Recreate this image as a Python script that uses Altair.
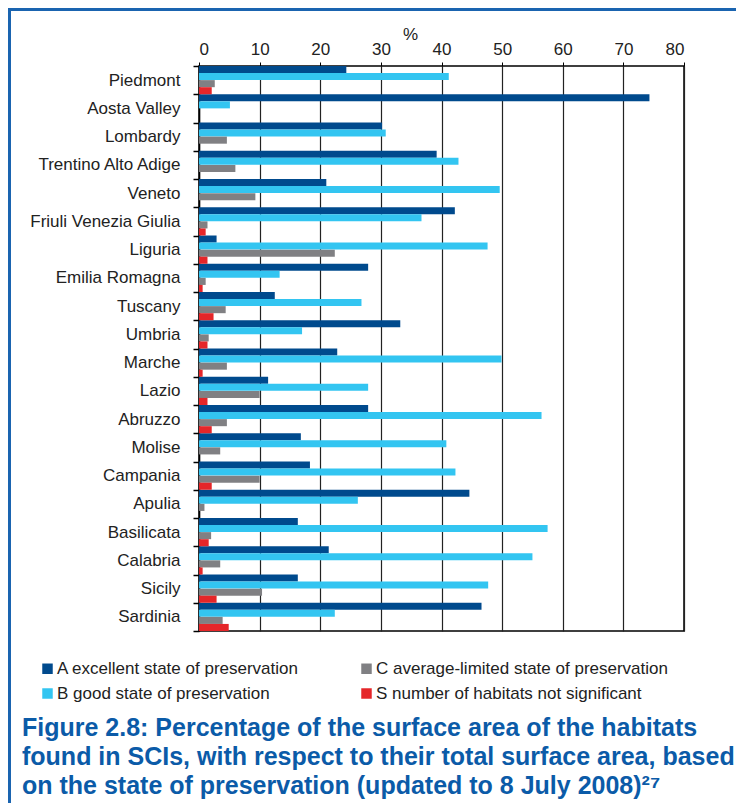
import altair as alt
import pandas as pd

regions = ["Piedmont", "Aosta Valley", "Lombardy", "Trentino Alto Adige", "Veneto",
           "Friuli Venezia Giulia", "Liguria", "Emilia Romagna", "Tuscany", "Umbria",
           "Marche", "Lazio", "Abruzzo", "Molise", "Campania", "Apulia", "Basilicata",
           "Calabria", "Sicily", "Sardinia"]

series_a = [24.3, 74.3, 30.2, 39.2, 21.0, 42.2, 2.9, 27.9, 12.5, 33.2,
            22.8, 11.4, 27.9, 16.8, 18.3, 44.6, 16.3, 21.4, 16.3, 46.6]
series_b = [41.2, 5.1, 30.8, 42.8, 49.6, 36.7, 47.6, 13.3, 26.8, 17.0,
            49.9, 27.9, 56.5, 40.8, 42.3, 26.2, 57.5, 55.0, 47.7, 22.4]
series_c = [2.6, 0.0, 4.6, 6.0, 9.3, 1.4, 22.4, 1.1, 4.4, 1.6,
            4.6, 10.0, 4.6, 3.5, 10.0, 0.9, 2.0, 3.5, 10.4, 3.9]
series_s = [2.1, 0.0, 0.0, 0.0, 0.0, 1.1, 1.4, 0.6, 2.4, 1.4,
            0.6, 1.4, 2.1, 0.0, 2.1, 0.0, 1.6, 0.6, 2.9, 4.9]

names = ["A excellent state of preservation",
         "B good state of preservation",
         "C average-limited state of preservation",
         "S number of habitats not significant"]
colors = ["#004a8d", "#33c5f1", "#808083", "#e52629"]

title_lines = ["Figure 2.8: Percentage of the surface area of the habitats",
               "found in SCIs, with respect to their total surface area, based",
               "on the state of preservation (updated to 8 July 2008)\u00b2\u2077"]

rows = []
for name, vals in zip(names, [series_a, series_b, series_c, series_s]):
    for r, v in zip(regions, vals):
        rows.append({"region": r, "series": name, "value": v})
df = pd.DataFrame(rows)

legend_order = [names[0], names[2], names[1], names[3]]
legend_colors = [colors[0], colors[2], colors[1], colors[3]]

FONT = "Liberation Sans"
BLUE = "#0b5ba8"

bars = alt.Chart(df).mark_bar(size=7.06).encode(
    x=alt.X("value:Q",
            scale=alt.Scale(domain=[0, 80], nice=False),
            axis=alt.Axis(orient="top", values=list(range(0, 81, 10)), title="%",
                          titleX=211, titleY=-27, titleAngle=0, titleBaseline="alphabetic",
                          titleFont=FONT, titleFontSize=17, titleFontWeight="normal",
                          titleColor="#222",
                          labelFont=FONT, labelFontSize=17, labelColor="#222",
                          labelPadding=4, tickSize=4, tickColor="#000",
                          domain=False,
                          grid=True, gridColor="#222", gridWidth=1.2, gridOpacity=1)),
    y=alt.Y("region:N", sort=regions, title=None,
            scale=alt.Scale(paddingInner=0, paddingOuter=0),
            axis=alt.Axis(labelFont=FONT, labelFontSize=17, labelColor="#222",
                          labelPadding=13, tickSize=6, tickColor="#000", tickWidth=1.5,
                          tickBand="extent", domainColor="#000", domainWidth=1.5)),
    yOffset=alt.YOffset("series:N", sort=names,
                        scale=alt.Scale(paddingInner=0, paddingOuter=0)),
    color=alt.Color("series:N",
                    scale=alt.Scale(domain=legend_order, range=legend_colors),
                    legend=alt.Legend(orient="none", legendX=-160, legendY=594,
                                      columns=2, title=None, direction="horizontal",
                                      symbolType="square", symbolSize=110,
                                      symbolStrokeWidth=0, symbolOpacity=1,
                                      labelFont=FONT, labelFontSize=17, labelColor="#222",
                                      labelLimit=0,
                                      labelOffset=1, columnPadding=9, rowPadding=7,
                                      gridAlign="all", padding=0)),
)

frame_top = alt.Chart(df).mark_rule(color="#1a64b0", strokeWidth=3).encode(
    x=alt.value(-192), x2=alt.value(560), y=alt.value(-56.5))
frame_left = alt.Chart(df).mark_rule(color="#1a64b0", strokeWidth=3).encode(
    x=alt.value(-190), y=alt.value(-58), y2=alt.value(760))

title_layers = []
for i, line in enumerate(title_lines):
    title_layers.append(
        alt.Chart(pd.DataFrame({"t": [line]})).mark_text(
            align="left", baseline="alphabetic", font=FONT, fontSize=25,
            fontWeight="bold", color=BLUE).encode(
            text="t:N", x=alt.value(-177), y=alt.value(670 + 29 * i)))

chart = alt.layer(bars, frame_top, frame_left, *title_layers).properties(
    width=485, height=565,
    autosize=alt.AutoSizeParams(type="none"),
    padding={"left": 191, "top": 58, "right": 52, "bottom": 172},
).configure_view(stroke="#000", strokeWidth=1.5)

chart.save("out.html", embed_options={"renderer": "svg", "actions": False})
